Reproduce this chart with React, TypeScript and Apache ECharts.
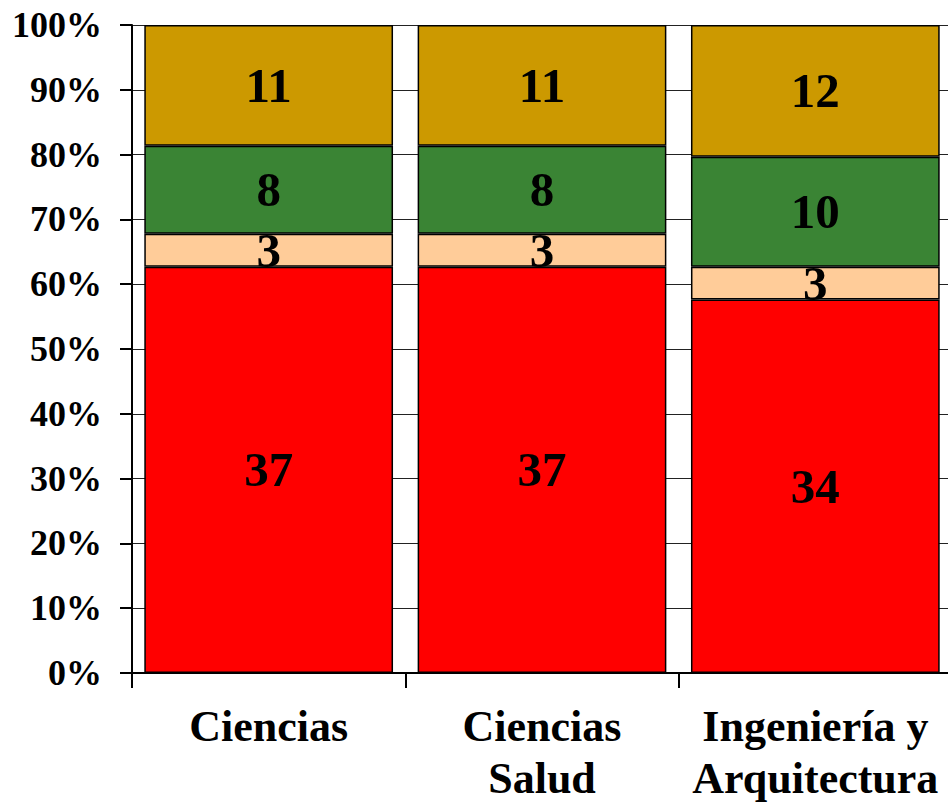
import React, { useEffect, useRef } from "react";
import * as echarts from "echarts";

const categories = ["Ciencias", "Ciencias\nSalud", "Ingeniería y\nArquitectura"];
const seriesNames = ["A", "B", "C", "D"];
const seriesColors = ["#FF0000", "#FFCC99", "#3A8434", "#CC9900"];
const valuesA = [37, 37, 34];
const valuesB = [3, 3, 3];
const valuesC = [8, 8, 10];
const valuesD = [11, 11, 12];
const yTickLabels = ["0%", "10%", "20%", "30%", "40%", "50%", "60%", "70%", "80%", "90%", "100%"];

const FONT = "'Liberation Serif', 'Times New Roman', serif";

export default function App() {
  const ref = useRef<HTMLDivElement>(null);
  useEffect(() => {
    if (!ref.current) return;
    const chart = echarts.init(ref.current, null, { renderer: "svg" });
    const raw = [valuesA, valuesB, valuesC, valuesD];
    const totals = categories.map((_, i) => raw.reduce((s, arr) => s + arr[i], 0));
    const series = raw.map((arr, si) => ({
      name: seriesNames[si],
      type: "bar",
      stack: "total",
      barCategoryGap: "9%",
      itemStyle: { color: seriesColors[si], borderColor: "#000", borderWidth: 1.5 },
      label: {
        show: true,
        position: "inside",
        color: "#000",
        fontFamily: FONT,
        fontWeight: "bold",
        fontSize: 49,
        formatter: (p: any) => String(arr[p.dataIndex]),
      },
      data: arr.map((v, i) => (v / totals[i]) * 100),
    }));
    chart.setOption({
      animation: false,
      backgroundColor: "#fff",
      grid: {
        left: 132,
        width: 820,
        top: 25,
        height: 648,
        containLabel: false,
        outerBoundsMode: "none",
      },
      xAxis: {
        type: "category",
        data: categories,
        axisLine: { show: true, lineStyle: { color: "#000", width: 2 } },
        axisTick: { show: true, length: 15, lineStyle: { color: "#000", width: 2 } },
        axisLabel: {
          color: "#000",
          fontFamily: FONT,
          fontWeight: "bold",
          fontSize: 44,
          lineHeight: 52,
          margin: 27,
          interval: 0,
        },
      },
      yAxis: {
        type: "value",
        min: 0,
        max: 100,
        interval: 10,
        axisLine: { show: true, lineStyle: { color: "#000", width: 2 } },
        axisTick: { show: true, length: 12, lineStyle: { color: "#000", width: 2 } },
        splitLine: { show: true, lineStyle: { color: "#222", width: 1 } },
        axisLabel: {
          color: "#000",
          fontFamily: FONT,
          fontWeight: "bold",
          fontSize: 36,
          margin: 30,
          formatter: (v: number) => yTickLabels[Math.round(v / 10)],
        },
      },
      series,
    });
    return () => chart.dispose();
  }, []);
  return (
    <div
      ref={ref}
      style={{ position: "fixed", left: 0, top: 0, width: 948, height: 803 }}
    />
  );
}
